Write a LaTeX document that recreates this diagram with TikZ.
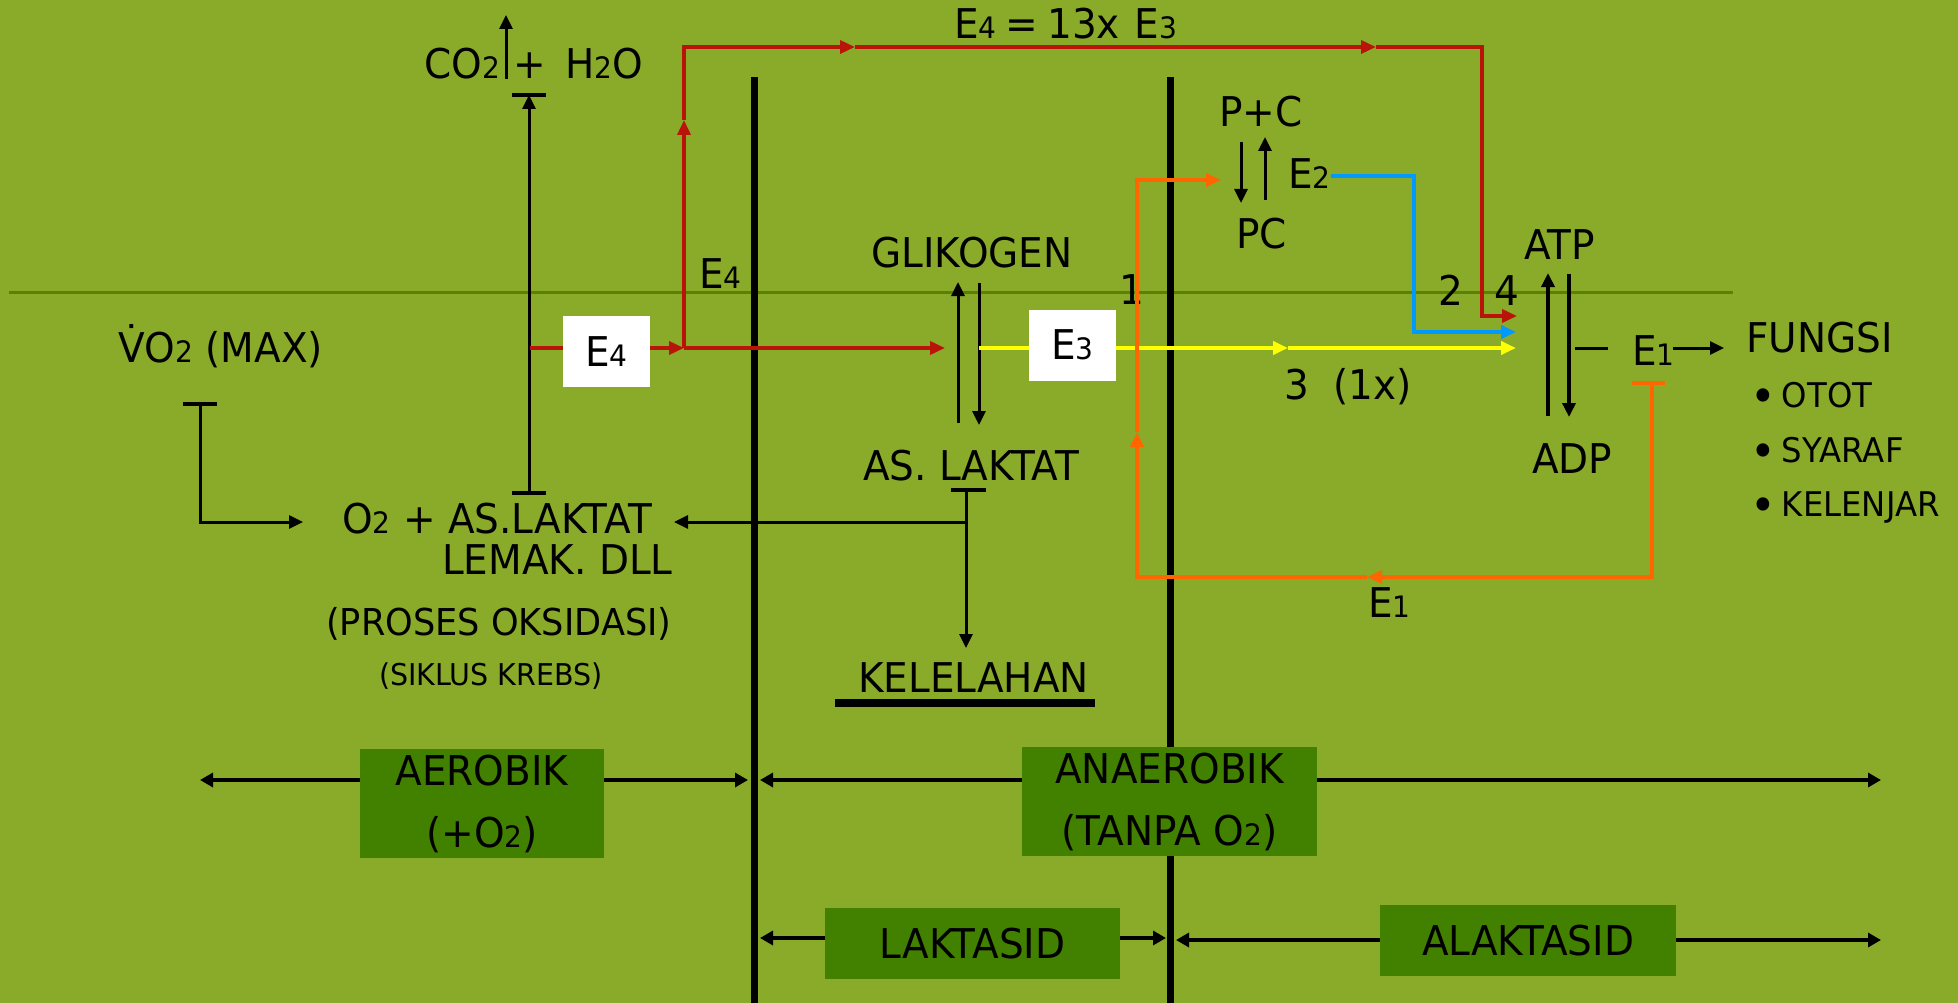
\documentclass[tikz,border=0pt]{standalone}
\usepackage{fontspec}
\setmainfont{DejaVu Sans}[FakeStretch=0.95]
\usetikzlibrary{arrows.meta}
\definecolor{bggreen}{HTML}{8AAA2A}
\definecolor{rulegreen}{HTML}{5A8200}
\definecolor{boxgreen}{HTML}{428000}
\definecolor{flowred}{HTML}{B81508}
\definecolor{floworange}{HTML}{FF6600}
\definecolor{flowyellow}{HTML}{FFFF00}
\definecolor{flowblue}{HTML}{0099FF}
\newcommand\idx[1]{\scalebox{0.72}{#1}}
\newcommand\mainsize{\fontsize{41}{48}\selectfont}
\newcommand\bul{\raisebox{-5pt}{\scalebox{1.35}{•}}\hspace{6pt}}

\begin{document}
\begin{tikzpicture}[x=1pt,y=-1pt,
  lbl/.style={inner sep=0pt,anchor=base west,font=\mainsize},
  lblsm/.style={lbl,font=\fontsize{34}{40}\selectfont},
  ebox/.style={fill=white,minimum width=87pt,minimum height=71pt,inner sep=0pt,font=\mainsize},
  phase/.style={fill=boxgreen,inner sep=0pt,align=center,font=\fontsize{41}{62}\selectfont},
  blk/.style={line width=3pt},
  blkarr/.style={blk,-{Triangle[length=14pt,width=13pt]}},
  redarr/.style={flowred,line width=3.5pt,-{Triangle[length=15pt,width=13pt]}},
  orarr/.style={floworange,line width=4pt,-{Triangle[length=15pt,width=13pt]}},
  spanarr/.style={line width=4pt,{Triangle[length=13pt,width=14pt]}-{Triangle[length=13pt,width=14pt]}}]
  \fill[bggreen] (0,0) rectangle (1958,1003);
  \useasboundingbox (0,0) rectangle (1958,1003);
  \draw[rulegreen,line width=3pt] (9,292) -- (1733,292);
  % zone borders
  \draw[line width=7pt] (754,77) -- (754,1010);
  \draw[line width=7pt] (1170,77) -- (1170,1010);

  % texts
  \node[lbl] (co2) at (424,79) {CO\idx{2}};
  \node[lbl,anchor=base] (plus) at (530,79) {+};
  \node[lbl] (h2o) at (565,79) {H\idx{2}O};
  \node[lbl] (vo2) at (118,362) {V̇O\idx{2} (MAX)};
  \node[lbl] (e4l) at (699,288) {E\idx{4}};
  \node[lbl] (glik) at (871,267) {GLIKOGEN};
  \node[lbl] (e4eq) at (954,39) {E\idx{4}\hspace{9pt}=\hspace{9pt}13x\hspace{15pt}E\idx{3}};
  \node[lbl] (pc1) at (1219,127) {P+C};
  \node[lbl] (e2) at (1288,189) {E\idx{2}};
  \node[lbl] (pc2) at (1236,248) {PC};
  \node[lbl] (one) at (1119,304) {1};
  \node[lbl] (two) at (1438,305) {2};
  \node[lbl] (four) at (1494,305) {4};
  \node[lbl] (atp) at (1524,259) {ATP};
  \node[lbl] (three) at (1284,399) {3\ \ (1x)};
  \node[lbl] (e1a) at (1632,365) {E\idx{1}};
  \node[lbl] (fungsi) at (1746,352) {FUNGSI};
  \node[lblsm] (otot) at (1750,407) {\bul OTOT};
  \node[lblsm] (syaraf) at (1750,462) {\bul SYARAF};
  \node[lblsm] (kelenjar) at (1750,516) {\bul KELENJAR};
  \node[lbl] (adp) at (1532,473) {ADP};
  \node[lbl] (laktat) at (863,480) {AS. LAKTAT};
  \node[lbl] (o2) at (342,533) {O\idx{2} + AS.LAKTAT};
  \node[lbl] (lemak) at (442,574) {LEMAK. DLL};
  \node[lbl,font=\fontsize{37}{44}\selectfont] (oks) at (326,635) {(PROSES OKSIDASI)};
  \node[lbl,font=\fontsize{30}{36}\selectfont] (krebs) at (379,685) {(SIKLUS KREBS)};
  \node[lbl] (lelah) at (858,692) {KELELAHAN};
  \node[lbl] (e1b) at (1368,617) {E\idx{1}};
  \draw[line width=8pt] (835,703) -- (1095,703);

  % oxidative path
  \draw[line width=4pt] (183,404) -- (217,404);
  \draw[blkarr] (200,404) -- (200,522) -- (303,522);
  \draw[line width=4pt] (512,95) -- (546,95);
  \draw[line width=4pt] (512,493) -- (546,493);
  \draw[blkarr] (529,493) -- (529,95);
  \draw[blkarr] (506,79) -- (506,15);

  % lactate
  \draw[line width=4pt] (951,490) -- (986,490);
  \draw[blkarr] (966,490) -- (966,648);
  \draw[blkarr] (966,522) -- (674,522);
  \draw[blkarr] (958,423) -- (958,282);
  \draw[blkarr] (979,283) -- (979,425);

  % phosphocreatine and ATP
  \draw[blkarr] (1241,142) -- (1241,203);
  \draw[blkarr] (1265,200) -- (1265,137);
  \draw[blkarr,line width=4pt] (1548,416) -- (1548,273);
  \draw[blkarr,line width=4pt] (1569,274) -- (1569,417);
  \draw[blk] (1575,348) -- (1608,348);
  \draw[blkarr] (1673,348) -- (1724,348);

  % E4 route
  \draw[redarr] (530,348) -- (684,348);
  \draw[redarr] (684,348) -- (945,348);
  \draw[redarr] (684,348) -- (684,120);
  \draw[redarr] (684,120) -- (684,47) -- (855,47);
  \draw[redarr] (855,47) -- (1376,47);
  \draw[redarr] (1376,47) -- (1482,47) -- (1482,316) -- (1517,316);
  \node[ebox] (e4box) at (606.5,351.5) {E\idx{4}};

  % E3 route
  \draw[flowyellow,line width=4.5pt,-{Triangle[length=15pt,width=13pt]}] (979,348) -- (1288,348);
  \draw[flowyellow,line width=4.5pt,-{Triangle[length=15pt,width=13pt]}] (1288,348) -- (1516,348);
  \node[ebox] (e3box) at (1072.5,345) {E\idx{3}};

  % E2 route
  \draw[flowblue,line width=4pt,-{Triangle[length=15pt,width=13pt]}] (1331,176) -- (1414,176) -- (1414,332) -- (1516,332);

  % E1 route
  \draw[floworange,line width=4pt] (1632,383) -- (1665,383);
  \draw[orarr] (1652,383) -- (1652,577) -- (1367,577);
  \draw[orarr] (1367,577) -- (1137,577) -- (1137,432);
  \draw[orarr] (1137,432) -- (1137,180) -- (1221,180);

  % phases
  \draw[spanarr] (200,780) -- (748,780);
  \draw[spanarr] (760,780) -- (1881,780);
  \draw[spanarr] (760,938) -- (1166,938);
  \draw[spanarr] (1176,940) -- (1881,940);
  \node[phase,minimum width=244pt,minimum height=109pt] (aer) at (482,803.5) {AEROBIK\\(+O\idx{2})};
  \node[phase,minimum width=295pt,minimum height=109pt] (anaer) at (1169.5,801.5) {ANAEROBIK\\(TANPA O\idx{2})};
  \node[phase,minimum width=295pt,minimum height=71pt] (lakt) at (972.5,943.5) {LAKTASID};
  \node[phase,minimum width=296pt,minimum height=71pt] (alakt) at (1528,940.5) {ALAKTASID};
\end{tikzpicture}
\end{document}
